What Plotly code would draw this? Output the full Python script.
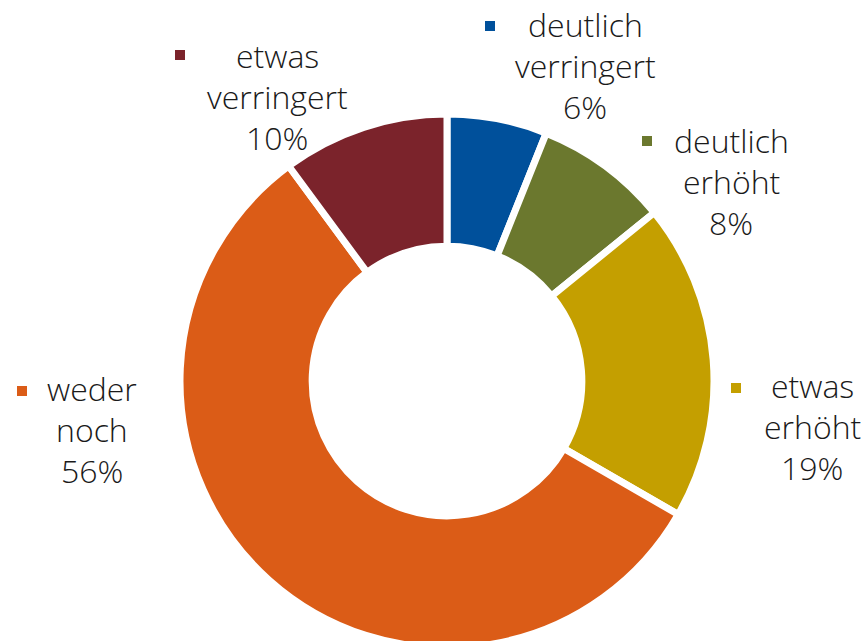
import plotly.graph_objects as go

# Data (clockwise from 12 o'clock)
categories = ["deutlich verringert", "deutlich erhöht", "etwas erhöht", "weder noch", "etwas verringert"]
label_lines = [["deutlich", "verringert"], ["deutlich", "erhöht"], ["etwas", "erhöht"], ["weder", "noch"], ["etwas", "verringert"]]
values = [6, 8, 19, 56, 10]
colors = ["#00509B", "#6B782E", "#C49F00", "#DB5C17", "#7B232B"]

W, H = 865, 660  # figure is a bit taller than the 641px view; the pie runs off the bottom

# label layout (screen pixel positions: text-center x, first baseline y, marker center)
label_pos = {
    "deutlich verringert": dict(cx=585, by=36, mx=490, my=26),
    "deutlich erhöht": dict(cx=731, by=152, mx=647, my=141),
    "etwas erhöht": dict(cx=812, by=397, mx=736, my=388),
    "weder noch": dict(cx=92, by=400, mx=22, my=391),
    "etwas verringert": dict(cx=277, by=67, mx=180, my=55),
}
FS = 32
LINE = 41

def px(x):
    return x / W

def py(y):
    return 1 - y / H

# pie geometry (screen px): center and radius
CX, CY, R = 447, 381, 267
fx0 = (CX - R) / W
fx1 = (CX + R) / W
cyb = H - CY
fy0 = max(0, (cyb - R) / H)
fy1 = (cyb + R) / H

fig = go.Figure(go.Pie(
    labels=categories,
    values=values,
    sort=False,
    direction="clockwise",
    rotation=0,
    hole=0.505,
    marker=dict(colors=colors, line=dict(color="white", width=7)),
    textinfo="none",
    hoverinfo="label+percent",
    domain=dict(x=[fx0, fx1], y=[fy0, fy1]),
    showlegend=False,
))

annotations = []
shapes = []
for cat, lines, v, col in zip(categories, label_lines, values, colors):
    p = label_pos[cat]
    texts = lines + [f"{v}%"]
    for i, t in enumerate(texts):
        base = p["by"] + i * LINE
        annotations.append(dict(
            x=px(p["cx"]), y=py(base - 0.35 * FS), xref="paper", yref="paper",
            text=t, showarrow=False, xanchor="center", yanchor="middle",
            font=dict(family="Open Sans", size=FS, color="#1a1a1a", weight=350),
        ))
    shapes.append(dict(
        type="rect", xref="paper", yref="paper",
        x0=px(p["mx"] - 5), x1=px(p["mx"] + 5), y0=py(p["my"] + 5), y1=py(p["my"] - 5),
        fillcolor=col, line=dict(width=0),
    ))

fig.update_layout(
    width=W, height=H,
    margin=dict(l=0, r=0, t=0, b=0),
    paper_bgcolor="white", plot_bgcolor="white",
    annotations=annotations, shapes=shapes,
)

fig.write_html(
    "out.html",
    config={"displayModeBar": False},
    post_script="document.body.style.margin='0';document.body.style.overflow='hidden';",
)
